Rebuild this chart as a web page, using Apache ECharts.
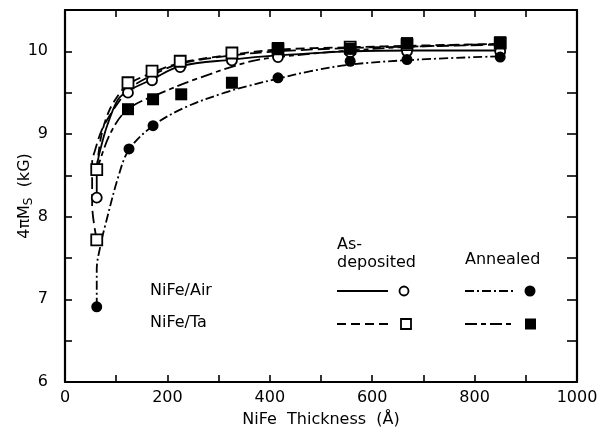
<!DOCTYPE html>
<html>
<head>
<meta charset="utf-8">
<script src="https://cdn.jsdelivr.net/npm/echarts@6/dist/echarts.min.js"></script>
<style>html,body{margin:0;padding:0;background:#fff}#c{width:602px;height:441px}</style>
</head>
<body>
<div id="c"></div>
<script>
// ---- data (thickness in Å, 4πMs in kG) ----
const airAsDepX = [62, 123, 170, 225, 326, 416, 557, 668, 850];
const airAsDepY = [8.23, 9.5, 9.65, 9.81, 9.89, 9.93, 9.99, 10.0, 10.0];
const taAsDepX = [62, 62, 123, 170, 225, 326, 416, 557, 668, 850];
const taAsDepY = [8.57, 7.72, 9.62, 9.76, 9.88, 9.98, 10.03, 10.05, 10.08, 10.1];
const airAnnX = [62, 125, 172, 416, 557, 668, 850];
const airAnnY = [6.91, 8.82, 9.1, 9.68, 9.88, 9.9, 9.93];
const taAnnX = [123, 172, 227, 326, 416, 557, 668, 850];
const taAnnY = [9.3, 9.42, 9.48, 9.62, 10.04, 10.03, 10.1, 10.11];

// fitted curves
const fitOuterX = [62, 53, 53, 59, 72, 92, 111, 123, 170, 225, 326, 416, 557, 693, 850];
const fitOuterY = [7.72, 8.15, 8.65, 8.81, 9.05, 9.27, 9.44, 9.54, 9.71, 9.85, 9.95, 10.0, 10.04, 10.06, 10.08];
const fitAirAsDepX = [62, 62, 74, 88, 104, 123, 170, 225, 326, 416, 557, 693, 850];
const fitAirAsDepY = [8.23, 8.55, 8.93, 9.2, 9.42, 9.52, 9.66, 9.82, 9.9, 9.95, 10.0, 10.01, 10.01];
const fitTaAsDepX = [62, 70, 84, 104, 123, 170, 225, 326, 416, 557, 693, 850];
const fitTaAsDepY = [8.57, 8.95, 9.25, 9.47, 9.6, 9.74, 9.86, 9.96, 10.02, 10.05, 10.07, 10.09];
const fitTaAnnX = [62, 88, 123, 189, 254, 357, 416, 557, 693, 850];
const fitTaAnnY = [8.55, 9.0, 9.3, 9.5, 9.66, 9.87, 9.93, 10.01, 10.06, 10.09];
const fitAirAnnX = [62, 62, 70, 78, 104, 125, 172, 234, 312, 357, 416, 480, 557, 688, 850];
const fitAirAnnY = [6.91, 7.36, 7.67, 7.88, 8.48, 8.81, 9.1, 9.32, 9.5, 9.58, 9.67, 9.76, 9.84, 9.9, 9.94];

const xTicksLabelled = [0, 200, 400, 600, 800, 1000];
const yTicksLabelled = [6, 7, 8, 9, 10];

// ---- styles ----
const FONT = 'DejaVu Sans';
const DASH = [9, 5];
const LONGSHORT = [12, 4, 5, 4];
const DASHDOT = [9, 3, 2, 3];
const LONGDASH = [12, 5];

const pairs = (xs, ys) => xs.map((x, i) => [x, ys[i]]);

function curve(xs, ys, type) {
  return {
    type: 'line', data: pairs(xs, ys), showSymbol: false, symbol: 'none',
    smooth: 0.35, silent: true, z: 2,
    lineStyle: { color: '#000', width: 1.8, type: type }
  };
}
function marks(xs, ys, symbol, filled, size) {
  return {
    type: 'scatter', data: pairs(xs, ys), symbol: symbol, symbolSize: size, z: 5,
    itemStyle: { color: filled ? '#000' : '#fff', borderColor: '#000', borderWidth: filled ? 0 : 1.8, opacity: 1 }
  };
}

const chart = echarts.init(document.getElementById('c'), null, { renderer: 'canvas' });

const axisCommon = {
  axisLine: { show: true, onZero: false, lineStyle: { color: '#000', width: 2.2 } },
  axisTick: { show: true, inside: true, length: 7, lineStyle: { color: '#000', width: 1.6 } },
  splitLine: { show: false }
};

chart.setOption({
  animation: false,
  backgroundColor: '#fff',
  grid: { left: 65, right: 25, top: 10, bottom: 59, containLabel: false, outerBoundsMode: 'none' },
  xAxis: [
    Object.assign({
      type: 'value', min: 0, max: 1000, interval: 100, position: 'bottom',
      name: 'NiFe  Thickness  (Å)', nameLocation: 'middle', nameGap: 30, nameMoveOverlap: false,
      nameTextStyle: { fontFamily: FONT, fontSize: 16, color: '#000' },
      axisLabel: {
        margin: 8, color: '#000', fontFamily: FONT, fontSize: 16,
        formatter: v => xTicksLabelled.includes(v) ? String(v) : ''
      }
    }, axisCommon),
    Object.assign({
      type: 'value', min: 0, max: 1000, interval: 100, position: 'top',
      axisLabel: { show: false }
    }, axisCommon)
  ],
  yAxis: [
    Object.assign({
      type: 'value', min: 6, max: 10.5, interval: 0.5, position: 'left',
      name: '{a|4πM}{s|S}{a|  (kG)}', nameLocation: 'middle', nameGap: 30, nameRotate: 90,
      nameMoveOverlap: false,
      nameTextStyle: {
        rich: {
          a: { fontFamily: FONT, fontSize: 16, color: '#000' },
          s: { fontFamily: FONT, fontSize: 12, color: '#000', padding: [8, 0, 0, 0] }
        }
      },
      axisLabel: {
        margin: 17, color: '#000', fontFamily: FONT, fontSize: 16,
        formatter: v => yTicksLabelled.includes(v) ? String(v) : ''
      }
    }, axisCommon),
    Object.assign({
      type: 'value', min: 6, max: 10.5, interval: 0.5, position: 'right',
      axisLabel: { show: false }
    }, axisCommon, { axisTick: { show: true, inside: true, length: 10, lineStyle: { color: '#000', width: 1.6 } } })
  ],
  series: [
    curve(fitOuterX, fitOuterY, LONGDASH),
    curve(fitAirAsDepX, fitAirAsDepY, 'solid'),
    curve(fitTaAsDepX, fitTaAsDepY, DASH),
    curve(fitTaAnnX, fitTaAnnY, LONGSHORT),
    curve(fitAirAnnX, fitAirAnnY, DASHDOT),
    marks(airAsDepX, airAsDepY, 'circle', false, 10),
    marks(taAsDepX, taAsDepY, 'rect', false, 11),
    marks(airAnnX, airAnnY, 'circle', true, 11),
    marks(taAnnX, taAnnY, 'rect', true, 12)
  ],
  graphic: [
    { type: 'text', left: 337, top: 236, style: { text: 'As-\ndeposited', font: '16px "DejaVu Sans"', fill: '#000', lineHeight: 18 } },
    { type: 'text', left: 465, top: 252, style: { text: 'Annealed', font: '16px "DejaVu Sans"', fill: '#000' } },
    { type: 'text', left: 150, top: 283, style: { text: 'NiFe/Air', font: '16px "DejaVu Sans"', fill: '#000' } },
    { type: 'text', left: 150, top: 315, style: { text: 'NiFe/Ta', font: '16px "DejaVu Sans"', fill: '#000' } },
    { type: 'line', shape: { x1: 337, y1: 291, x2: 388, y2: 291 }, style: { stroke: '#000', lineWidth: 1.8 } },
    { type: 'circle', shape: { cx: 404, cy: 291, r: 4.5 }, style: { fill: '#fff', stroke: '#000', lineWidth: 1.8 } },
    { type: 'line', shape: { x1: 465, y1: 291, x2: 514, y2: 291 }, style: { stroke: '#000', lineWidth: 1.8, lineDash: DASHDOT } },
    { type: 'circle', shape: { cx: 530, cy: 291, r: 5.5 }, style: { fill: '#000' } },
    { type: 'line', shape: { x1: 337, y1: 324, x2: 388, y2: 324 }, style: { stroke: '#000', lineWidth: 1.8, lineDash: DASH } },
    { type: 'rect', shape: { x: 401, y: 319, width: 10, height: 10 }, style: { fill: '#fff', stroke: '#000', lineWidth: 1.8 } },
    { type: 'line', shape: { x1: 465, y1: 324, x2: 514, y2: 324 }, style: { stroke: '#000', lineWidth: 1.8, lineDash: LONGSHORT } },
    { type: 'rect', shape: { x: 525, y: 318.5, width: 11, height: 11 }, style: { fill: '#000' } }
  ]
});
</script>
</body>
</html>
